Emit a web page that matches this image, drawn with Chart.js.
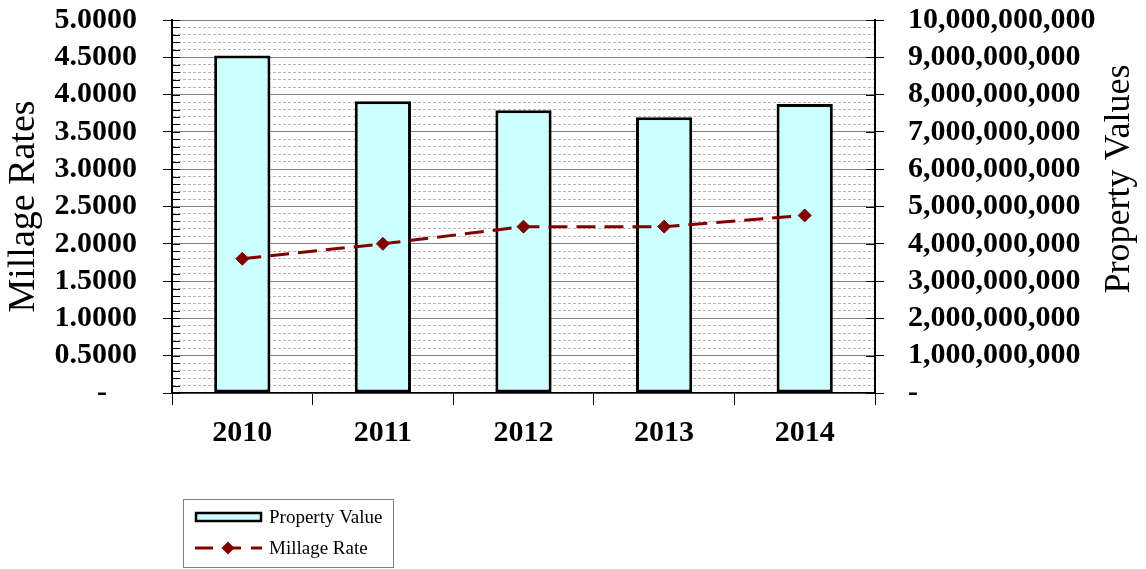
<!DOCTYPE html>
<html><head><meta charset="utf-8">
<script src="https://cdn.jsdelivr.net/npm/chart.js@4/dist/chart.umd.min.js"></script>
<style>html,body{margin:0;padding:0;background:#fff;}#wrap{width:1146px;height:569px;position:relative;}</style>
</head><body><div id="wrap"><canvas id="c" width="1146" height="569"></canvas></div>
<script>
const categories = ['2010', '2011', '2012', '2013', '2014'];
const propertyValues = [9.05e9, 7.82e9, 7.58e9, 7.39e9, 7.75e9];
const millageRates = [1.80, 2.00, 2.23, 2.23, 2.38];
const rateTickLabels = ['-\u2007\u2007', '0.5000', '1.0000', '1.5000', '2.0000', '2.5000', '3.0000', '3.5000', '4.0000', '4.5000', '5.0000'];
const valueTickLabels = ['-', '1,000,000,000', '2,000,000,000', '3,000,000,000', '4,000,000,000', '5,000,000,000', '6,000,000,000', '7,000,000,000', '8,000,000,000', '9,000,000,000', '10,000,000,000'];
const seriesNames = ['Property Value', 'Millage Rate'];
const leftAxisTitle = 'Millage Rates';
const rightAxisTitle = 'Property Values';

const SERIF = '"Liberation Serif", "Times New Roman", serif';
Chart.defaults.font.family = SERIF;
Chart.defaults.color = '#000';

function majorIdx(v) { return Math.round(v * 10); }
function isMajorCtx(ctx) { return ctx.tick ? (majorIdx(ctx.tick.value) % 5 === 0) : true; }
function noPad(s) { s.paddingTop = 0; s.paddingBottom = 0; s.paddingLeft = 0; s.paddingRight = 0; }

const extras = {
  id: 'extras',
  afterDatasetsDraw(chart) {
    const ctx = chart.ctx, ca = chart.chartArea;
    const y = chart.scales.y, y2 = chart.scales.y2;
    ctx.save();
    ctx.strokeStyle = '#000';
    ctx.lineWidth = 1;
    y.ticks.forEach(t => {
      const py = Math.round(y.getPixelForValue(t.value)) + 0.5;
      ctx.beginPath(); ctx.moveTo(ca.left, py); ctx.lineTo(ca.left + 8, py); ctx.stroke();
    });
    y2.ticks.forEach(t => {
      const py = Math.round(y2.getPixelForValue(t.value)) + 0.5;
      ctx.beginPath(); ctx.moveTo(ca.right - 9, py); ctx.lineTo(ca.right, py); ctx.stroke();
    });
    ctx.restore();
  },
  afterDraw(chart) {
    const ctx = chart.ctx;
    ctx.save();
    ctx.fillStyle = '#000';
    ctx.font = '36px ' + SERIF;
    ctx.textAlign = 'center';
    ctx.textBaseline = 'middle';
    ctx.translate(1120, 179);
    ctx.rotate(-Math.PI / 2);
    ctx.fillText(rightAxisTitle, 0, 0);
    ctx.restore();

    const bar = chart.data.datasets[0], line = chart.data.datasets[1];
    ctx.save();
    ctx.strokeStyle = '#808080';
    ctx.lineWidth = 1;
    ctx.strokeRect(183.5, 499.5, 210, 68);
    ctx.fillStyle = bar.backgroundColor;
    ctx.fillRect(196, 513, 65, 8);
    ctx.strokeStyle = bar.borderColor;
    ctx.lineWidth = 2.5;
    ctx.strokeRect(196, 513, 65, 8);
    ctx.strokeStyle = line.borderColor;
    ctx.lineWidth = 3;
    ctx.setLineDash([18, 10]);
    ctx.beginPath(); ctx.moveTo(195, 548); ctx.lineTo(262, 548); ctx.stroke();
    ctx.setLineDash([]);
    ctx.fillStyle = line.pointBackgroundColor;
    const cx = 228, cy = 548, r = 6.5;
    ctx.beginPath(); ctx.moveTo(cx, cy - r); ctx.lineTo(cx + r, cy); ctx.lineTo(cx, cy + r); ctx.lineTo(cx - r, cy); ctx.closePath(); ctx.fill();
    ctx.fillStyle = '#000';
    ctx.font = '19px ' + SERIF;
    ctx.textAlign = 'left';
    ctx.textBaseline = 'middle';
    ctx.fillText(bar.label, 269, 518);
    ctx.fillText(line.label, 269, 549);
    ctx.restore();
  }
};

new Chart(document.getElementById('c'), {
  data: {
    labels: categories,
    datasets: [
      {
        type: 'bar', label: seriesNames[0], data: propertyValues, yAxisID: 'y2', order: 1,
        backgroundColor: '#CCFFFF', borderColor: '#000', borderWidth: 3, borderSkipped: false,
        categoryPercentage: 1, barPercentage: 0.4
      },
      {
        type: 'line', label: seriesNames[1], data: millageRates, yAxisID: 'y', order: 0,
        borderColor: '#800000', borderWidth: 3, borderDash: [19, 9], tension: 0, fill: false,
        pointStyle: 'rectRot', pointRadius: 6.5, pointBackgroundColor: '#800000', pointBorderColor: '#800000', pointBorderWidth: 1
      }
    ]
  },
  options: {
    responsive: false, animation: false, devicePixelRatio: 1, events: [],
    layout: { padding: { top: 20, left: 0, right: 0, bottom: 0 } },
    plugins: { legend: { display: false }, tooltip: { enabled: false } },
    scales: {
      x: {
        type: 'category', offset: true,
        grid: { offset: true, drawOnChartArea: false, drawTicks: true, tickLength: 12, color: '#000', tickColor: '#000' },
        border: { color: '#000', width: 1.5 },
        ticks: { font: { size: 30, weight: 'bold' }, padding: 10, maxRotation: 0, autoSkip: false },
        afterFit(s) { s.height = 176; noPad(s); }
      },
      y: {
        type: 'linear', position: 'left', min: 0, max: 5,
        ticks: {
          stepSize: 0.1, autoSkip: false, padding: 26, font: { size: 30, weight: 'bold' },
          callback(v) { const k = majorIdx(v); return k % 5 === 0 ? rateTickLabels[k / 5] : ''; }
        },
        grid: {
          drawTicks: true, tickLength: 9,
          color: ctx => isMajorCtx(ctx) ? '#808080' : '#b4b4b4',
          lineWidth: 1,
          tickColor: ctx => isMajorCtx(ctx) ? '#000' : 'rgba(0,0,0,0)'
        },
        border: { color: '#000', width: 2, dash: ctx => (ctx.tick && !isMajorCtx(ctx)) ? [3, 2] : [] },
        title: { display: true, text: leftAxisTitle, font: { size: 38, weight: 'normal', lineHeight: 1 }, padding: { top: 5, bottom: 0 }, color: '#000' },
        afterFit(s) { s.width = 172; noPad(s); }
      },
      y2: {
        type: 'linear', position: 'right', min: 0, max: 1e10,
        ticks: {
          stepSize: 1e9, autoSkip: false, padding: 24, font: { size: 30, weight: 'bold' },
          callback(v) { return valueTickLabels[Math.round(v / 1e9)]; }
        },
        grid: { drawOnChartArea: false, drawTicks: true, tickLength: 9, color: '#000', tickColor: '#000' },
        border: { color: '#000', width: 2 },
        afterFit(s) { s.width = 271; noPad(s); }
      }
    }
  },
  plugins: [extras]
});
</script>
</body></html>
